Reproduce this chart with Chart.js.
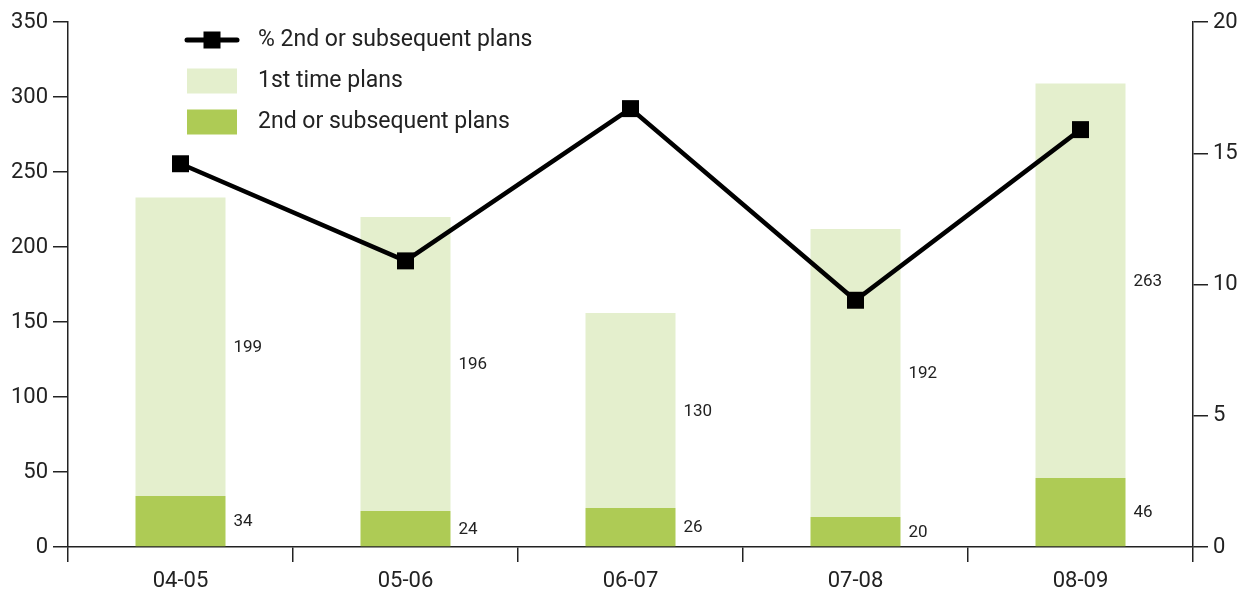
<!DOCTYPE html>
<html>
<head>
<meta charset="utf-8">
<script src="https://cdn.jsdelivr.net/npm/chart.js@4"></script>
<style>
  html, body { margin: 0; padding: 0; background: #fff; }
  #wrap { width: 1248px; height: 594px; }
</style>
</head>
<body>
<div id="wrap"><canvas id="c" width="1248" height="594"></canvas></div>
<script>
const years = ["04-05", "05-06", "06-07", "07-08", "08-09"];
const firstTime = [199, 196, 130, 192, 263];
const secondPlus = [34, 24, 26, 20, 46];
const pctSecond = [14.6, 10.9, 16.7, 9.4, 15.9];
const leftTicks = [0, 50, 100, 150, 200, 250, 300, 350];
const rightTicks = [0, 5, 10, 15, 20];

const FONT = "Roboto, 'DejaVu Sans', sans-serif";
const INK = "#222";

// numbers beside each bar segment
const segmentLabels = {
  id: "segmentLabels",
  afterDatasetsDraw(chart) {
    const { ctx } = chart;
    ctx.save();
    ctx.font = "17px " + FONT;
    ctx.fillStyle = INK;
    ctx.textAlign = "left";
    ctx.textBaseline = "middle";
    chart.data.datasets.forEach((ds, i) => {
      if (ds.type === "line") return;
      chart.getDatasetMeta(i).data.forEach((bar, j) => {
        const yMid = (bar.y + bar.base) / 2;
        ctx.fillText(ds.data[j], bar.x + bar.width / 2 + 8, yMid + 1);
      });
    });
    ctx.restore();
  }
};

// legend in the top-left corner
const cornerLegend = {
  id: "cornerLegend",
  afterDraw(chart) {
    const { ctx } = chart;
    const ds = chart.data.datasets;
    const rows = [ds[0], ds[2], ds[1]];
    const x0 = 187, boxW = 50, boxH = 25, textX = 258;
    const rowY = [40, 81, 122];
    ctx.save();
    ctx.font = "23px " + FONT;
    ctx.textBaseline = "middle";
    ctx.textAlign = "left";
    rows.forEach((d, k) => {
      const y = rowY[k];
      if (d.type === "line") {
        ctx.strokeStyle = d.borderColor;
        ctx.lineWidth = 5;
        ctx.lineCap = "round";
        ctx.beginPath();
        ctx.moveTo(x0, y);
        ctx.lineTo(x0 + boxW, y);
        ctx.stroke();
        ctx.fillStyle = d.pointBackgroundColor;
        ctx.fillRect(x0 + boxW / 2 - 8.5, y - 8.5, 17, 17);
      } else {
        ctx.fillStyle = d.backgroundColor;
        ctx.fillRect(x0, y - boxH / 2, boxW, boxH);
      }
      ctx.fillStyle = INK;
      ctx.fillText(d.label, textX, y);
    });
    ctx.restore();
  }
};

new Chart(document.getElementById("c"), {
  data: {
    labels: years,
    datasets: [
      {
        type: "line",
        label: "% 2nd or subsequent plans",
        data: pctSecond,
        yAxisID: "y1",
        borderColor: "#000",
        borderWidth: 4.5,
        pointStyle: "rect",
        pointRadius: 12,
        pointHoverRadius: 12,
        pointBackgroundColor: "#000",
        pointBorderWidth: 0,
        tension: 0
      },
      {
        type: "bar",
        label: "2nd or subsequent plans",
        data: secondPlus,
        yAxisID: "y",
        backgroundColor: "#aecb55",
        borderWidth: 0,
        barPercentage: 0.4,
        categoryPercentage: 1.0
      },
      {
        type: "bar",
        label: "1st time plans",
        data: firstTime,
        yAxisID: "y",
        backgroundColor: "#e4efcd",
        borderWidth: 0,
        barPercentage: 0.4,
        categoryPercentage: 1.0
      }
    ]
  },
  options: {
    responsive: false,
    animation: false,
    layout: { padding: { top: 22, left: 0, right: 0, bottom: 0 } },
    plugins: {
      legend: { display: false },
      tooltip: { enabled: false }
    },
    scales: {
      x: {
        stacked: true,
        offset: true,
        grid: {
          offset: true,
          drawOnChartArea: false,
          drawTicks: true,
          tickLength: 15,
          color: INK,
          lineWidth: 1.5
        },
        border: { display: true, color: INK, width: 1.5 },
        ticks: { color: INK, font: { family: FONT, size: 22 }, padding: 6 },
        afterFit(s) { s.height = 47; }
      },
      y: {
        stacked: true,
        position: "left",
        min: 0,
        max: 350,
        afterBuildTicks(s) { s.ticks = leftTicks.map(v => ({ value: v })); },
        grid: {
          drawOnChartArea: false,
          drawTicks: true,
          tickLength: 15,
          color: INK,
          lineWidth: 1.5
        },
        border: { display: true, color: INK, width: 1.5 },
        ticks: { color: INK, font: { family: FONT, size: 22 }, padding: 5 },
        afterFit(s) { s.width = 68; }
      },
      y1: {
        position: "right",
        min: 0,
        max: 20,
        afterBuildTicks(s) { s.ticks = rightTicks.map(v => ({ value: v })); },
        grid: {
          drawOnChartArea: false,
          drawTicks: true,
          tickLength: 15,
          color: INK,
          lineWidth: 1.5
        },
        border: { display: true, color: INK, width: 1.5 },
        ticks: { color: INK, font: { family: FONT, size: 22 }, padding: 5 },
        afterFit(s) { s.width = 55; }
      }
    }
  },
  plugins: [segmentLabels, cornerLegend]
});
</script>
</body>
</html>
